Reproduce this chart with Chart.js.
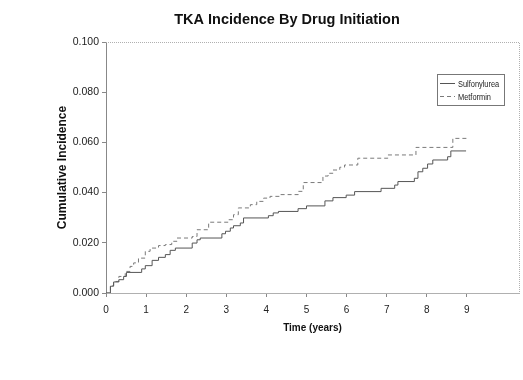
<!DOCTYPE html>
<html>
<head>
<meta charset="utf-8">
<script src="https://cdn.jsdelivr.net/npm/chart.js@4.4.1/dist/chart.umd.min.js"></script>
<style>
  html, body { margin: 0; padding: 0; background: #fff; }
  #wrap { width: 523px; height: 380px; position: relative; }
</style>
</head>
<body>
<div id="wrap"><canvas id="c" width="523" height="380"></canvas></div>
<script>
// ---- Data ----
const chartTitle = 'TKA Incidence By Drug Initiation';
const xTitle = 'Time (years)';
const yTitle = 'Cumulative Incidence';
const seriesNames = ['Sulfonylurea', 'Metformin'];

const xTickValues = [0, 1, 2, 3, 4, 5, 6, 7, 8, 9];
const yTickValues = [0, 0.02, 0.04, 0.06, 0.08, 0.10];

const sulfTimes  = [0, 0.11, 0.19, 0.32, 0.44, 0.51, 0.89, 0.98, 1.15, 1.31, 1.48, 1.60, 1.73, 2.15, 2.27, 2.35, 2.89, 2.98, 3.10, 3.18, 3.35, 3.43, 4.05, 4.17, 4.30, 4.79, 5.00, 5.46, 5.66, 5.99, 6.20, 6.86, 7.20, 7.28, 7.69, 7.78, 7.90, 8.02, 8.15, 8.52, 8.60, 8.98];
const sulfValues = [0, 0.0027, 0.0044, 0.0053, 0.0066, 0.0082, 0.0096, 0.0109, 0.0130, 0.0142, 0.0153, 0.0170, 0.0179, 0.0199, 0.0212, 0.0219, 0.0236, 0.0246, 0.0259, 0.0268, 0.0279, 0.0299, 0.0308, 0.0319, 0.0325, 0.0336, 0.0347, 0.0367, 0.0380, 0.0390, 0.0404, 0.0417, 0.0430, 0.0444, 0.0457, 0.0483, 0.0497, 0.0514, 0.0530, 0.0543, 0.0566, 0.0566];

const metTimes  = [0, 0.11, 0.19, 0.32, 0.48, 0.60, 0.69, 0.81, 0.98, 1.10, 1.31, 1.48, 1.64, 1.77, 2.15, 2.27, 2.56, 3.05, 3.18, 3.30, 3.60, 3.76, 3.93, 4.09, 4.34, 4.80, 4.92, 5.41, 5.54, 5.66, 5.83, 5.95, 6.28, 7.03, 7.73, 8.65, 9.02];
const metValues = [0, 0.0030, 0.0046, 0.0066, 0.0086, 0.0106, 0.0120, 0.0139, 0.0166, 0.0179, 0.0189, 0.0193, 0.0206, 0.0219, 0.0225, 0.0252, 0.0282, 0.0292, 0.0312, 0.0339, 0.0352, 0.0365, 0.0378, 0.0385, 0.0392, 0.0405, 0.0440, 0.0466, 0.0477, 0.0490, 0.0501, 0.0510, 0.0537, 0.0550, 0.0580, 0.0616, 0.0616];

const FONT = "'Liberation Sans', Arial, sans-serif";

const toPoints = (ts, vs) => ts.map((t, i) => ({ x: t, y: vs[i] }));

// Frame (top/right dotted) + in-plot legend
const framePlugin = {
  id: 'frame',
  beforeDatasetsDraw(chart) {
    const { ctx, chartArea: a } = chart;
    ctx.save();
    ctx.strokeStyle = '#b0b0b0';
    ctx.lineWidth = 1;
    ctx.setLineDash([1, 1]);
    ctx.beginPath();
    ctx.moveTo(a.left, a.top + 0.5);
    ctx.lineTo(a.right + 0.5, a.top + 0.5);
    ctx.lineTo(a.right + 0.5, a.bottom);
    ctx.stroke();
    ctx.restore();
  },
  afterDatasetsDraw(chart) {
    const { ctx } = chart;
    const x = 437, y = 74, w = 67, h = 31;
    ctx.save();
    ctx.fillStyle = '#fff';
    ctx.fillRect(x, y, w, h);
    ctx.strokeStyle = '#777';
    ctx.lineWidth = 1;
    ctx.strokeRect(x + 0.5, y + 0.5, w, h);
    chart.data.datasets.forEach((ds, i) => {
      const ly = y + 9 + i * 13;
      ctx.strokeStyle = ds.borderColor;
      ctx.setLineDash(ds.borderDash || []);
      ctx.beginPath();
      ctx.moveTo(x + 3, ly + 0.5);
      ctx.lineTo(x + 18, ly + 0.5);
      ctx.stroke();
      ctx.setLineDash([]);
      ctx.save();
      ctx.translate(x + 21, ly + 1);
      ctx.scale(0.78, 1);
      ctx.font = "9.5px " + FONT;
      ctx.textBaseline = 'middle';
      ctx.fillStyle = '#222';
      ctx.fillText(ds.label, 0, 0);
      ctx.restore();
    });
    ctx.restore();
  }
};

new Chart(document.getElementById('c'), {
  type: 'line',
  data: {
    datasets: [
      {
        label: seriesNames[0],
        data: toPoints(sulfTimes, sulfValues),
        borderColor: '#555555',
        borderWidth: 1,
        stepped: 'before',
        pointRadius: 0,
        fill: false
      },
      {
        label: seriesNames[1],
        data: toPoints(metTimes, metValues),
        borderColor: '#7a7a7a',
        borderWidth: 1,
        borderDash: [4, 3],
        stepped: 'before',
        pointRadius: 0,
        fill: false
      }
    ]
  },
  options: {
    responsive: false,
    animation: false,
    layout: { padding: { left: 55, right: 4, top: 0, bottom: 46 } },
    plugins: {
      legend: { display: false },
      tooltip: { enabled: false },
      title: {
        display: true,
        text: chartTitle,
        color: '#111',
        font: { family: FONT, size: 14.5, weight: 'bold' },
        padding: { top: 11, bottom: 13.6 }
      }
    },
    scales: {
      x: {
        type: 'linear',
        min: 0,
        max: 10.3,
        afterFit(s) { s.height = 41; },
        afterBuildTicks(s) { s.ticks = xTickValues.map(v => ({ value: v })); },
        grid: { display: true, drawOnChartArea: false, drawTicks: true, tickLength: 4, color: '#888' },
        border: { display: true, color: '#b0b0b0', dash: [1, 1] },
        ticks: {
          color: '#222',
          font: { family: FONT, size: 10 },
          padding: 7,
          maxRotation: 0,
          callback: v => String(v)
        },
        title: {
          display: true,
          text: xTitle,
          color: '#111',
          font: { family: FONT, size: 10, weight: 'bold' },
          padding: { top: 0, bottom: 0 }
        }
      },
      y: {
        min: 0,
        max: 0.1,
        afterFit(s) { s.width = 51; },
        afterBuildTicks(s) { s.ticks = yTickValues.map(v => ({ value: v })); },
        grid: { display: true, drawOnChartArea: false, drawTicks: true, tickLength: 4, color: '#888' },
        border: { display: true, color: '#888' },
        ticks: {
          color: '#222',
          font: { family: FONT, size: 10.5 },
          padding: 3,
          callback: v => Number(v).toFixed(3)
        },
        title: {
          display: true,
          text: yTitle,
          color: '#111',
          font: { family: FONT, size: 12, weight: 'bold' },
          padding: { top: 0, bottom: 0 }
        }
      }
    }
  },
  plugins: [framePlugin]
});
</script>
</body>
</html>
